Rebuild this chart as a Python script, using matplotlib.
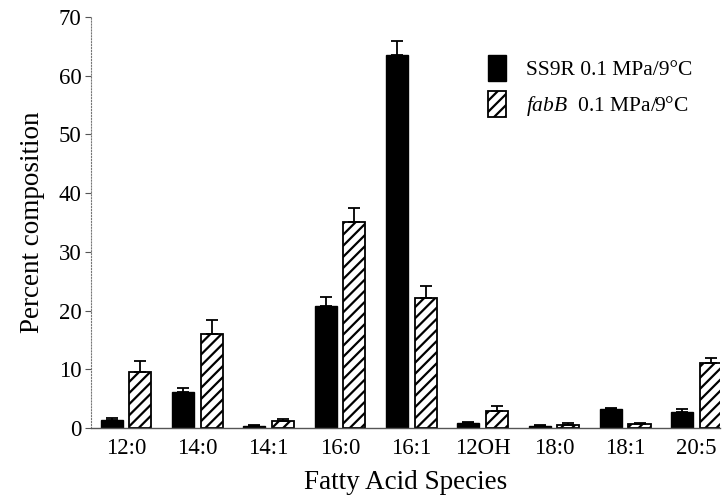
import numpy as np
import matplotlib
matplotlib.use("Agg")
from matplotlib import pyplot as plt

plt.rcParams['font.family'] = 'Liberation Serif'
plt.rcParams['mathtext.fontset'] = 'custom'
plt.rcParams['mathtext.rm'] = 'Liberation Serif'
plt.rcParams['mathtext.it'] = 'Liberation Serif:italic'
plt.rcParams['hatch.linewidth'] = 1.6

species = ["12:0", "14:0", "14:1", "16:0", "16:1", "12OH", "18:0", "18:1", "20:5"]
ss9r = [1.4, 6.2, 0.4, 20.8, 63.6, 0.9, 0.4, 3.2, 2.8]
ss9r_err = [0.3, 0.7, 0.2, 1.6, 2.3, 0.2, 0.1, 0.3, 0.4]
fabb = [9.5, 16.0, 1.2, 35.1, 22.1, 2.9, 0.6, 0.7, 11.1]
fabb_err = [1.9, 2.4, 0.4, 2.3, 2.1, 0.8, 0.2, 0.1, 0.8]

x = np.arange(len(species))
w = 0.31

fig = plt.figure(figsize=(7.23, 4.99), dpi=100)
ax = fig.add_axes([0.126, 0.142, 0.87, 0.824])

ax.bar(x - 0.2, ss9r, w, color='black', edgecolor='black', linewidth=1,
       yerr=[np.zeros(len(x)), ss9r_err], capsize=4,
       error_kw=dict(elinewidth=1.3, capthick=1.3, ecolor='black'),
       label="SS9R 0.1 MPa/9°C")
ax.bar(x + 0.2, fabb, w, color='white', edgecolor='black', linewidth=1.3,
       hatch='///', yerr=[np.zeros(len(x)), fabb_err], capsize=4,
       error_kw=dict(elinewidth=1.3, capthick=1.3, ecolor='black'),
       label=r"$\it{fabB}$  0.1 MPa/9°C")

ax.set_xlim(-0.49, 8.33)
ax.set_ylim(0, 70)
ax.set_yticks(range(0, 71, 10))
ax.set_xticks(x)
ax.set_xticklabels(species)

for s in ['top', 'right']:
    ax.spines[s].set_visible(False)
ax.spines['left'].set_linestyle(':')
ax.spines['left'].set_color('#777777')
ax.spines['bottom'].set_color('#555555')
ax.spines['bottom'].set_linewidth(1.0)

ax.tick_params(axis='y', length=4, width=0.8, color='#555555', labelsize=16.5, pad=3)
ax.tick_params(axis='x', length=0, labelsize=16.5, pad=7)

ax.set_xlabel("Fatty Acid Species", fontsize=19.5, labelpad=8)
ax.set_ylabel("Percent composition", fontsize=19.5, labelpad=10)

ax.legend(loc='upper left', bbox_to_anchor=(0.60, 0.955), frameon=False,
          fontsize=15.5, handlelength=0.85, handleheight=1.5,
          handletextpad=0.9, labelspacing=0.45)

fig.savefig("out.png", dpi=100)
